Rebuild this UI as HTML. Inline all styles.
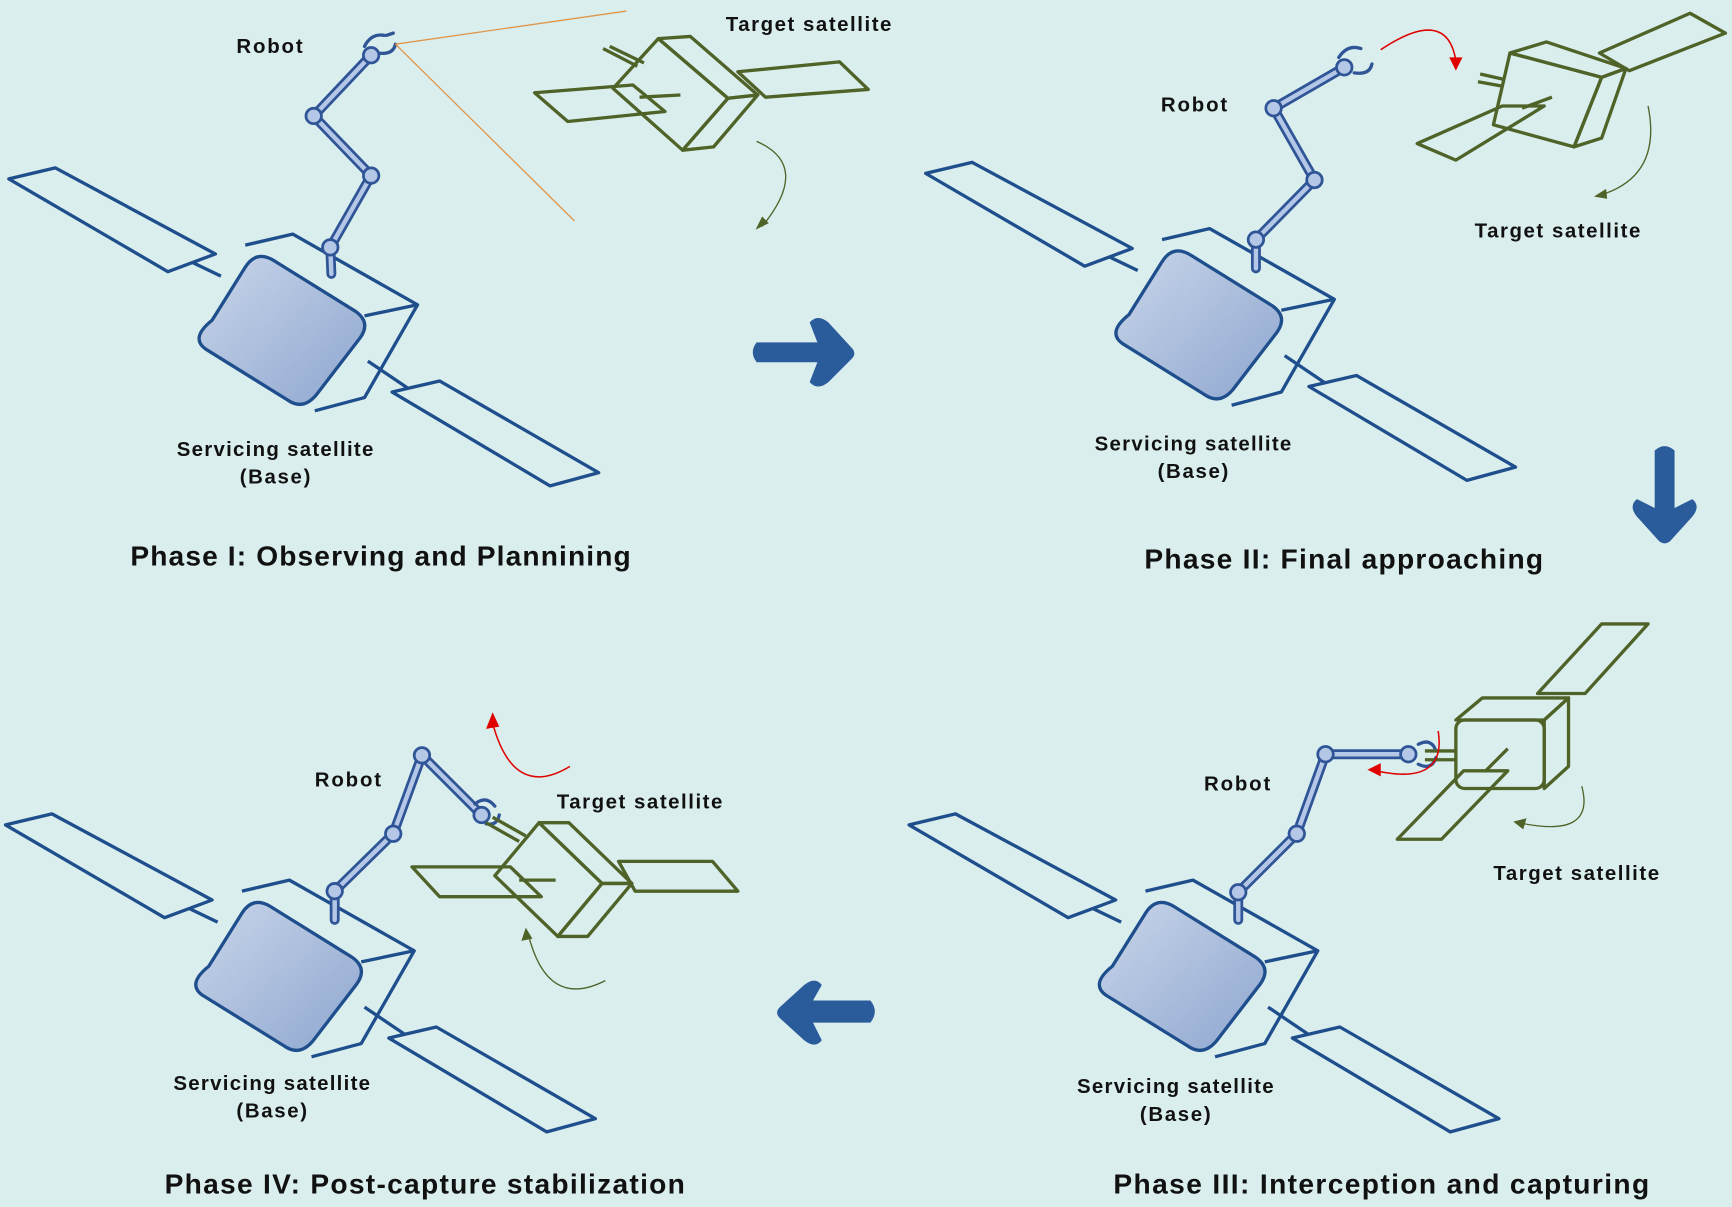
<!DOCTYPE html>
<html><head><meta charset="utf-8"><style>
html,body{margin:0;padding:0;background:#daeeee;}
svg{display:block}
text{font-family:"Liberation Sans",sans-serif;font-weight:bold;fill:#111}
</style></head><body>
<svg width="1732" height="1207" viewBox="0 0 1568 1093" preserveAspectRatio="none" xmlns="http://www.w3.org/2000/svg">
<defs>
<linearGradient id="g" x1="0" y1="0" x2="1" y2="1">
<stop offset="0" stop-color="#c9d6ea"/><stop offset="1" stop-color="#8ea6cf"/></linearGradient>
<g id="base" fill="none" stroke="#1f4e8c" stroke-width="3" stroke-linejoin="round">
<polygon points="8,162 50,152 195,230 152,246"/>
<line x1="175" y1="238" x2="200" y2="250"/>
<polygon points="355,355 398,345 542,428 498,440"/>
<line x1="333" y1="327" x2="370" y2="352"/>
<polyline points="222,222 265,212 378,276 330,360 285,372"/>
<line x1="330" y1="286" x2="378" y2="276"/>
<path d="M192,290 L222,242 Q232,226 248,236 L322,282 Q336,292 326,306 L286,358 Q274,372 260,362 L186,316 Q172,306 192,290 Z" fill="url(#g)"/>
</g>
</defs>
<rect width="1568" height="1093" fill="#daeeee"/>

<use href="#base"/>
<use href="#base" transform="translate(830,-5)"/>
<use href="#base" transform="translate(815,585)"/>
<use href="#base" transform="translate(-3,585)"/>

<g stroke-linecap="round" fill="none">
<g stroke="#2f5597" stroke-width="9">
<polyline points="300,248 299,224 336,159 284,105 336,50"/>
<polyline points="1137,243 1137,217 1190,163 1153,98 1217,61"/>
<polyline points="1121,833 1121,808 1174,755 1200,683 1275,683"/>
<polyline points="303,833 303,807 356,755 382,684 436,738"/>
</g>
<g stroke="#b4c7e7" stroke-width="4">
<polyline points="300,248 299,224 336,159 284,105 336,50"/>
<polyline points="1137,243 1137,217 1190,163 1153,98 1217,61"/>
<polyline points="1121,833 1121,808 1174,755 1200,683 1275,683"/>
<polyline points="303,833 303,807 356,755 382,684 436,738"/>
</g>
<g stroke="#2f5597" stroke-width="3">
<path d="M330,42 Q336,30 348,32 M342,48 Q356,50 358,40 M350,32 L356,30"/>
<path d="M1212,52 Q1220,40 1232,44 M1226,66 Q1240,68 1242,58"/>
<path d="M1284,674 Q1296,668 1300,680 M1284,692 Q1296,698 1300,686"/>
<path d="M430,728 Q440,720 448,730 M440,746 Q450,748 452,738"/>
</g>
<g fill="#b4c7e7" stroke="#2f5597" stroke-width="2.5">
<circle cx="299" cy="224" r="7"/><circle cx="336" cy="159" r="7"/><circle cx="284" cy="105" r="7"/><circle cx="336" cy="50" r="7"/>
<circle cx="1137" cy="217" r="7"/><circle cx="1190" cy="163" r="7"/><circle cx="1153" cy="98" r="7"/><circle cx="1217" cy="61" r="7"/>
<circle cx="1121" cy="808" r="7"/><circle cx="1174" cy="755" r="7"/><circle cx="1200" cy="683" r="7"/><circle cx="1275" cy="683" r="7"/>
<circle cx="303" cy="807" r="7"/><circle cx="356" cy="755" r="7"/><circle cx="382" cy="684" r="7"/><circle cx="436" cy="738" r="7"/>
</g>
</g>

<line x1="358" y1="40" x2="567" y2="10" stroke="#e0964a" stroke-width="1.2"/>
<line x1="358" y1="40" x2="520" y2="200" stroke="#e0964a" stroke-width="1.2"/>

<g fill="none" stroke="#4f6228" stroke-width="3" stroke-linejoin="round">
<!-- Phase I -->
<polygon points="596,35 659,89 618,136 555,80"/>
<polygon points="596,35 625,33 686,86 659,89"/>
<polygon points="659,89 686,86 646,133 618,136"/>
<polygon points="484,84 573,77 602,101 514,110"/>
<line x1="579" y1="88" x2="616" y2="86"/>
<polygon points="668,65 760,56 786,81 693,88"/>
<line x1="546" y1="44" x2="577" y2="60"/><line x1="552" y1="42" x2="583" y2="57"/>
<!-- Phase II -->
<polygon points="1367,48 1450,70 1425,133 1352,113"/>
<polygon points="1367,48 1400,38 1472,62 1450,70"/>
<polygon points="1450,70 1472,62 1450,125 1425,133"/>
<polygon points="1448,48 1530,12 1562,30 1475,64"/>
<polygon points="1283,130 1360,96 1398,96 1318,145"/>
<line x1="1378" y1="98" x2="1405" y2="88"/>
<line x1="1340" y1="67" x2="1362" y2="72"/><line x1="1338" y1="74" x2="1360" y2="78"/>
<!-- Phase III -->
<rect x="1318" y="652" width="80" height="62" rx="8"/>
<polygon points="1318,652 1342,632 1420,632 1398,652"/>
<polygon points="1398,652 1420,632 1420,694 1398,714"/>
<polygon points="1392,628 1450,565 1492,565 1435,628"/>
<polygon points="1265,760 1325,698 1365,698 1305,760"/>
<line x1="1365" y1="678" x2="1345" y2="698"/>
<line x1="1290" y1="680" x2="1318" y2="680"/><line x1="1290" y1="688" x2="1318" y2="688"/>
<!-- Phase IV -->
<polygon points="488,745 545,800 505,848 448,793"/>
<polygon points="488,745 515,745 572,800 545,800"/>
<polygon points="545,800 572,800 532,848 505,848"/>
<polygon points="373,785 462,785 490,812 398,812"/>
<line x1="470" y1="797" x2="503" y2="797"/>
<polygon points="560,780 645,780 668,807 575,807"/>
<line x1="440" y1="745" x2="470" y2="762"/><line x1="446" y1="740" x2="476" y2="757"/>
</g>

<g fill="none" stroke="#4f6228" stroke-width="1.2">
<path d="M685,128 Q735,150 690,205"/>
<path d="M1492,96 Q1505,160 1448,177"/>
<path d="M1432,712 Q1445,760 1375,745"/>
<path d="M548,888 Q495,915 478,845"/>
</g>
<g fill="#4f6228">
<polygon points="684,208 690,196 696,202"/>
<polygon points="1443,178 1454,171 1455,180"/>
<polygon points="1370,744 1382,741 1379,751"/>
<polygon points="476,840 472,852 482,850"/>
</g>
<g fill="none" stroke="#e00000" stroke-width="1.4">
<path d="M1250,45 Q1310,5 1318,55"/>
<path d="M516,694 Q465,725 446,655"/>
<path d="M1302,662 Q1310,712 1245,698"/>
</g>
<g fill="#e00000">
<polygon points="1312,52 1324,52 1318,64"/>
<polygon points="440,660 446,645 452,658"/>
<polygon points="1238,697 1250,691 1250,703"/>
</g>

<g fill="#2a5b9b">
<path d="M685,310 L740,310 L733,292 Q740,284 750,292 L772,316 Q775,320 772,324 L750,346 Q740,354 733,346 L740,328 L685,328 Q678,319 685,310 Z"/>
<path d="M1498,408 L1498,460 L1482,452 Q1474,458 1482,468 L1502,490 Q1507,494 1512,490 L1532,468 Q1540,458 1532,452 L1516,460 L1516,408 Q1507,400 1498,408 Z"/>
<path d="M788,906 L736,906 L744,892 Q738,884 728,892 L706,912 Q701,917 706,922 L728,942 Q738,950 744,942 L736,926 L788,926 Q796,916 788,906 Z"/>
</g>

<g font-size="18.5" lengthAdjust="spacingAndGlyphs">
<text x="214" y="48" textLength="60">Robot</text>
<text x="657" y="28" textLength="150">Target satellite</text>
<text x="160" y="413" textLength="178">Servicing satellite</text>
<text x="217" y="438" textLength="64">(Base)</text>
<text x="1051" y="101" textLength="60">Robot</text>
<text x="1335" y="215" textLength="150">Target satellite</text>
<text x="991" y="408" textLength="178">Servicing satellite</text>
<text x="1048" y="433" textLength="64">(Base)</text>
<text x="1090" y="716" textLength="60">Robot</text>
<text x="1352" y="797" textLength="150">Target satellite</text>
<text x="975" y="990" textLength="178">Servicing satellite</text>
<text x="1032" y="1015" textLength="64">(Base)</text>
<text x="285" y="712" textLength="60">Robot</text>
<text x="504" y="732" textLength="150">Target satellite</text>
<text x="157" y="987" textLength="178">Servicing satellite</text>
<text x="214" y="1012" textLength="64">(Base)</text>
</g>
<g font-size="25.5" lengthAdjust="spacingAndGlyphs">
<text x="118" y="512" textLength="453">Phase I: Observing and Plannining</text>
<text x="1036" y="515" textLength="361">Phase II: Final approaching</text>
<text x="149" y="1081" textLength="471">Phase IV: Post-capture stabilization</text>
<text x="1008" y="1081" textLength="485">Phase III: Interception and capturing</text>
</g>
</svg>
</body></html>
